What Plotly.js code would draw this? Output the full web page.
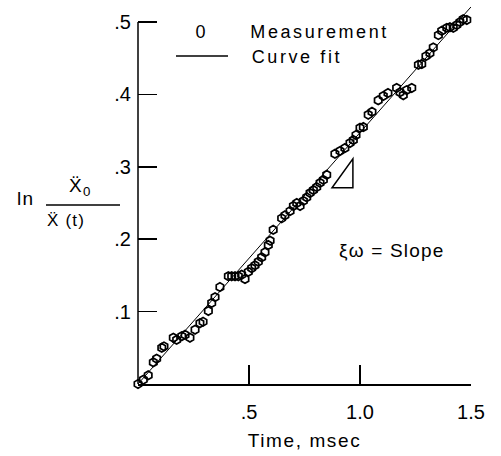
<!DOCTYPE html>
<html><head><meta charset="utf-8">
<script src="https://cdn.plot.ly/plotly-3.0.1.min.js"></script>
<style>
html,body{margin:0;padding:0;background:#fff}
#chart{width:501px;height:456px}
.annotation-text{letter-spacing:1.2px}
g.annotation[data-index="1"] .annotation-text,
g.annotation[data-index="2"] .annotation-text{letter-spacing:2.6px}
g.annotation[data-index="0"] .annotation-text{letter-spacing:0}
.xtitle{letter-spacing:1.6px}
</style>
</head><body><div id="chart"></div>
<script>
// Measured data (time in msec, ln of acceleration ratio)
const timeMs = [0.000,0.024,0.046,0.069,0.084,0.107,0.117,0.159,0.174,0.197,
  0.212,0.234,0.257,0.279,0.293,0.317,0.332,0.347,0.369,0.407,
  0.422,0.437,0.452,0.467,0.482,0.497,0.512,0.527,0.542,0.557,
  0.572,0.587,0.595,0.609,0.647,0.662,0.685,0.700,0.715,0.730,
  0.745,0.760,0.775,0.790,0.805,0.820,0.835,0.850,0.887,0.910,
  0.932,0.955,0.970,0.982,1.000,1.015,1.037,1.054,1.082,1.105,
  1.126,1.165,1.180,1.195,1.210,1.233,1.263,1.278,1.297,1.315,
  1.330,1.353,1.368,1.391,1.405,1.420,1.436,1.450,1.465,1.481,1.503];
const lnRatio = [0.000,0.006,0.012,0.030,0.035,0.050,0.052,0.064,0.061,0.066,
  0.068,0.064,0.075,0.084,0.086,0.101,0.112,0.120,0.134,0.149,
  0.149,0.149,0.149,0.151,0.145,0.155,0.160,0.164,0.169,0.175,
  0.182,0.192,0.198,0.213,0.229,0.233,0.239,0.246,0.250,0.246,
  0.253,0.258,0.264,0.268,0.272,0.278,0.282,0.289,0.318,0.322,
  0.326,0.333,0.337,0.344,0.354,0.355,0.372,0.376,0.392,0.398,
  0.402,0.409,0.403,0.399,0.406,0.409,0.441,0.442,0.453,0.457,
  0.465,0.482,0.488,0.492,0.493,0.492,0.496,0.500,0.504,0.503,0.496];
// Curve fit (straight line)
const fitTime = [0, 1.5];
const fitLn = [0, 0.521];
// Slope triangle corners
const triTime = [0.874, 0.968, 0.968];
const triLn = [0.271, 0.271, 0.311];
// Ticks
const xTickVals = [0.5, 1.0, 1.5];
const xTickText = ['.5', '1.0', '1.5'];
const yTickVals = [0.1, 0.2, 0.3, 0.4, 0.5];
const yTickText = ['.1', '.2', '.3', '.4', '.5'];
const yAxisTop = 0.5;
const legendLabels = ['Measurement', 'Curve fit'];

// layout geometry (pixel helpers for free-standing text)
const L = 138, R = 30, T = 4, B = 72, W = 501, H = 456;
const pw = W - L - R, ph = H - T - B;
const px = x => (x - L) / pw;
const py = y => (H - B - y) / ph;
const FONT = '"Liberation Sans", Arial, Helvetica, sans-serif';

const traces = [
  {x: timeMs, y: lnRatio, type: 'scatter', mode: 'markers', name: legendLabels[0],
   cliponaxis: false,
   marker: {symbol: 'hexagon-open', size: 8.5, color: '#000', line: {width: 1.7, color: '#000'}}},
  {x: fitTime, y: fitLn, type: 'scatter', mode: 'lines', name: legendLabels[1],
   line: {color: '#000', width: 1}}
];

const triPath = 'M' + triTime.map((t, i) => t + ',' + triLn[i]).join('L') + 'Z';

const layout = {
  width: W, height: H,
  margin: {l: L, r: R, t: T, b: B},
  paper_bgcolor: '#fff', plot_bgcolor: '#fff',
  showlegend: false,
  font: {family: FONT, color: '#000', size: 19},
  xaxis: {range: [0, 1.5], tickvals: xTickVals, ticktext: xTickText,
    ticks: 'inside', ticklen: 19, tickwidth: 1.5, tickcolor: '#000',
    showline: true, linecolor: '#000', linewidth: 1.5,
    showgrid: false, zeroline: false, ticklabelstandoff: 9,
    tickfont: {size: 20, family: FONT},
    title: {text: 'Time, msec', font: {size: 19, family: FONT}, standoff: 12}},
  yaxis: {range: [0, 0.525], tickvals: yTickVals, ticktext: yTickText,
    ticks: 'inside', ticklen: 19, tickwidth: 1.5, tickcolor: '#000',
    showline: false, showgrid: false, zeroline: false, ticklabelstandoff: 6,
    tickfont: {size: 20, family: FONT}},
  shapes: [
    {type: 'line', xref: 'paper', yref: 'y', x0: 0, x1: 0, y0: 0, y1: yAxisTop,
     line: {color: '#000', width: 1.5}},
    {type: 'path', xref: 'x', yref: 'y', path: triPath, line: {color: '#000', width: 1.5}},
    // legend line sample
    {type: 'line', xref: 'paper', yref: 'paper', x0: px(176), x1: px(228), y0: py(56), y1: py(56),
     line: {color: '#000', width: 1.3}},
    // fraction bar of y title
    {type: 'line', xref: 'paper', yref: 'paper', x0: px(46), x1: px(120), y0: py(205), y1: py(205),
     line: {color: '#000', width: 1.3}}
  ],
  annotations: [
    {xref: 'paper', yref: 'paper', x: px(200), y: py(32), text: '0', showarrow: false,
     font: {size: 18, family: FONT}, xanchor: 'center', yanchor: 'middle'},
    {xref: 'paper', yref: 'paper', x: px(256), y: py(32), text: legendLabels[0], showarrow: false,
     font: {size: 18, family: FONT}, xanchor: 'left', yanchor: 'middle'},
    {xref: 'paper', yref: 'paper', x: px(256), y: py(57), text: legendLabels[1], showarrow: false,
     font: {size: 18, family: FONT}, xanchor: 'left', yanchor: 'middle'},
    {xref: 'paper', yref: 'paper', x: px(392), y: py(250), text: '\u03BE\u03C9 = Slope', showarrow: false,
     font: {size: 19, family: FONT}, xanchor: 'center', yanchor: 'middle'},
    {xref: 'paper', yref: 'paper', x: px(25), y: py(198), text: 'ln', showarrow: false,
     font: {size: 19, family: FONT}, xanchor: 'center', yanchor: 'middle'},
    {xref: 'paper', yref: 'paper', x: px(80), y: py(187), text: '\u1E8C<sub>0</sub>', showarrow: false,
     font: {size: 19, family: FONT}, xanchor: 'center', yanchor: 'middle'},
    {xref: 'paper', yref: 'paper', x: px(66), y: py(220), text: '\u1E8C (t)', showarrow: false,
     font: {size: 17, family: FONT}, xanchor: 'center', yanchor: 'middle'}
  ]
};

Plotly.newPlot('chart', traces, layout, {displayModeBar: false, staticPlot: true});
</script>
</body></html>
